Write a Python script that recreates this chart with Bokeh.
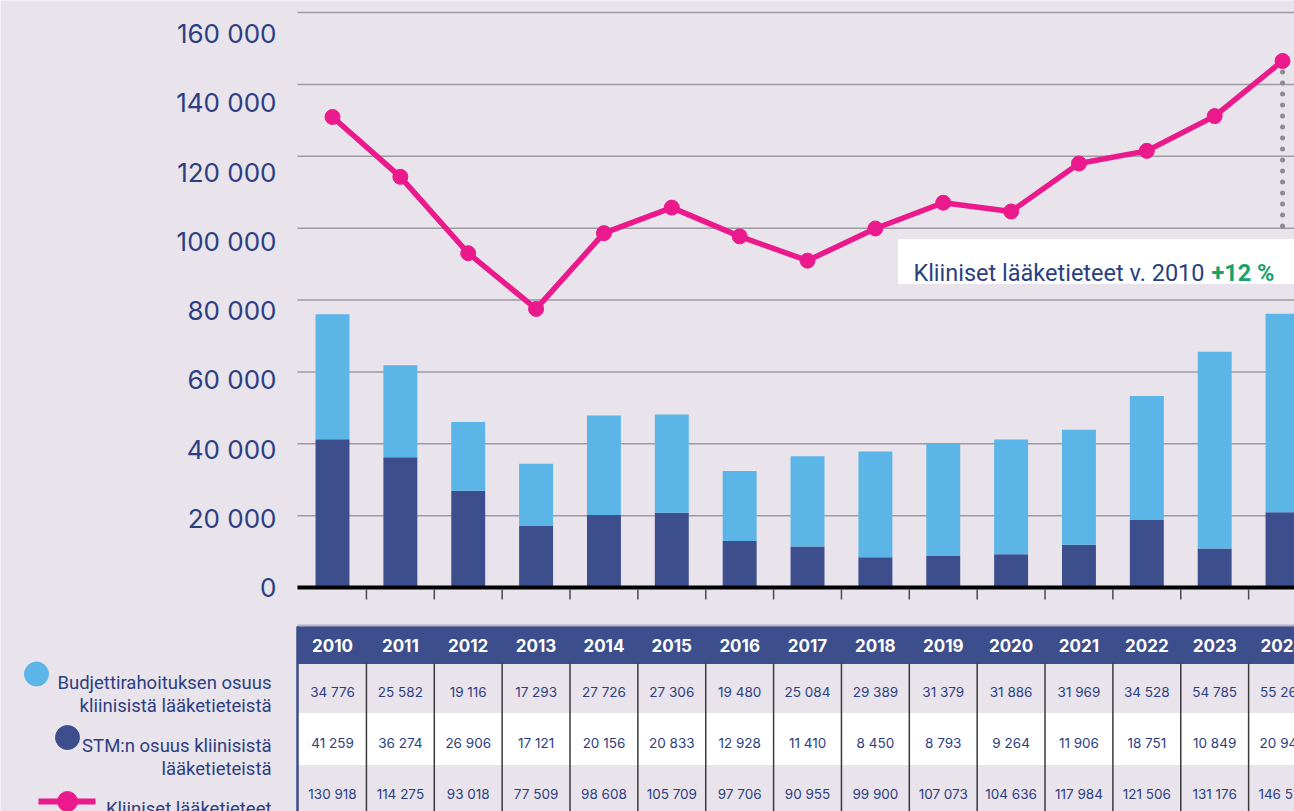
import numpy as np
from bokeh.plotting import figure
from bokeh.models import Range1d, ColumnDataSource
from bokeh.core.properties import value
from bokeh.embed import file_html
from bokeh.resources import INLINE

# ---------------- data ----------------
years = ["2010", "2011", "2012", "2013", "2014", "2015", "2016", "2017",
         "2018", "2019", "2020", "2021", "2022", "2023", "2024"]
budget = [34776, 25582, 19116, 17293, 27726, 27306, 19480, 25084,
          29389, 31379, 31886, 31969, 34528, 54785, 55263]
stm = [41259, 36274, 26906, 17121, 20156, 20833, 12928, 11410,
       8450, 8793, 9264, 11906, 18751, 10849, 20945]
clinical = [130918, 114275, 93018, 77509, 98608, 105709, 97706, 90955,
            99900, 107073, 104636, 117984, 121506, 131176, 146512]
y_ticks = [0, 20000, 40000, 60000, 80000, 100000, 120000, 140000, 160000]
y_tick_labels = ["0", "20 000", "40 000", "60 000", "80 000",
                 "100 000", "120 000", "140 000", "160 000"]
legend_budget = ["Budjettirahoituksen osuus", "kliinisistä lääketieteistä"]
legend_stm = ["STM:n osuus kliinisistä", "lääketieteistä"]
legend_line = "Kliiniset lääketieteet"
note_text = "Kliiniset lääketieteet v. 2010"

# ---------------- style / layout ----------------
BG = "#e9e3eb"
NAVY = "#3c4e8b"
LIGHT = "#5bb5e6"
PINK = "#ea1a8c"
TEXT = "#2c3e82"
GREEN = "#17a26c"
GRID = "#9d9aa1"
NUM_FONT = "Inter"
NARROW = "Roboto"

W, H = 1294, 811
X0 = 332            # px of first year's centre
STEP = 67.86        # px per year
BASE = 587          # px (from top) of the zero line
TOP_G = 12          # px (from top) of the top gridline
LAB_TOP = 33        # px (from top) of the top tick label centre
scale = (BASE - TOP_G) / y_ticks[-1]


def fx(px):
    return (px - X0) / STEP


def fy(px):
    return (BASE - px) / scale


n = len(years)
xs = np.arange(n)
fmt = lambda v: f"{v:,}".replace(",", " ")
x_start, x_end = fx(0), fx(W)
left = fx(297)

p = figure(width=W, height=H,
           x_range=Range1d(x_start, x_end), y_range=Range1d(fy(H), fy(0)),
           output_backend="svg", toolbar_location=None,
           x_axis_location=None, y_axis_location=None,
           min_border=0, background_fill_color=BG, border_fill_color=BG,
           outline_line_color=None)
p.xgrid.visible = False
p.ygrid.visible = False

# y tick labels (their own, slightly compressed spacing as in the original)
lab_k = (BASE - LAB_TOP) / (BASE - TOP_G)
p.text(x=[fx(276)] * len(y_ticks), y=[v * lab_k for v in y_ticks],
       text=y_tick_labels, text_align="right", text_baseline="middle",
       text_font=value(NUM_FONT), text_font_size="26px", text_color=TEXT)

# gridlines
g = y_ticks[1:]
p.segment(x0=[left] * len(g), y0=g, x1=[x_end] * len(g), y1=g,
          line_color=GRID, line_width=1.5)

# bars
src = ColumnDataSource(dict(x=xs, stm=stm, budget=budget, clinical=clinical))
p.vbar_stack(["stm", "budget"], x="x", width=0.5, color=[NAVY, LIGHT],
             line_color=None, source=src)

# baseline + ticks
p.segment(x0=[left], y0=[0], x1=[x_end], y1=[0], line_color="black",
          line_width=4)
tx = xs[:-1] + 0.5
p.segment(x0=tx, y0=[fy(BASE + 2)] * len(tx), x1=tx, y1=[fy(BASE + 12)] * len(tx),
          line_color="#4a4a4a", line_width=1.5)

# dotted connector from the last point down to the note
p.segment(x0=[xs[-1]], y0=[clinical[-1]], x1=[xs[-1]], y1=[y_ticks[5]],
          line_color="#8c8b90", line_width=5, line_dash="0 11",
          line_cap="round")

p.line("x", "clinical", source=src, line_color=PINK, line_width=5.5)
p.scatter("x", "clinical", source=src, size=15, color=PINK)

# note box
change = round((clinical[-1] / clinical[0] - 1) * 100)
p.quad(left=[fx(898)], right=[x_end], top=[fy(239)], bottom=[fy(283)],
       color="white")
p.text(x=[fx(1204)], y=[fy(272)], text=[note_text], text_align="right",
       text_baseline="alphabetic", text_font=value(NARROW),
       text_font_size="23.5px", text_color=TEXT)
p.text(x=[fx(1211)], y=[fy(272)], text=[f"+{change} %"], text_align="left",
       text_baseline="alphabetic", text_font=value(NARROW),
       text_font_style="bold", text_font_size="23.5px", text_color=GREEN)

# ---------------- table ----------------
p.quad(left=[left], right=[x_end], top=[fy(626)], bottom=[fy(663)], color=NAVY)
p.quad(left=[left], right=[x_end], top=[fy(713)], bottom=[fy(764)],
       color="white")
p.segment(x0=[left], y0=[fy(625)], x1=[x_end], y1=[fy(625)],
          line_color="#b7b1c2", line_width=2)
p.segment(x0=tx, y0=[fy(663)] * len(tx), x1=tx, y1=[fy(H + 5)] * len(tx),
          line_color="#3a3a3a", line_width=1.5)
p.segment(x0=[left], y0=[fy(626)], x1=[left], y1=[fy(H + 5)],
          line_color=NAVY, line_width=2.5)

p.text(x=xs, y=[fy(645)] * n, text=years, text_align="center",
       text_baseline="middle", text_font=value(NUM_FONT),
       text_font_style="bold", text_font_size="17px", text_color="white")
for row_px, vals in ((691, budget), (742, stm), (793, clinical)):
    p.text(x=xs, y=[fy(row_px)] * n, text=[fmt(v) for v in vals],
           text_align="center", text_baseline="middle",
           text_font=value(NUM_FONT), text_font_size="13.5px",
           text_color=TEXT)

# legend
p.scatter(x=[fx(36)], y=[fy(673.5)], size=24, color=LIGHT)
p.scatter(x=[fx(67)], y=[fy(737)], size=24, color=NAVY)
p.line(x=[fx(38), fx(95)], y=[fy(801), fy(801)], line_color=PINK, line_width=6)
p.scatter(x=[fx(67)], y=[fy(801)], size=20, color=PINK)
p.text(x=[fx(271)] * 5, y=[fy(v) for v in (682, 705, 745, 768, 808)],
       text=legend_budget + legend_stm + [legend_line],
       text_align="right", text_baseline="alphabetic",
       text_font=value(NARROW), text_font_size="18.5px", text_color=TEXT)

open("out.html", "w").write(file_html(p, INLINE))
